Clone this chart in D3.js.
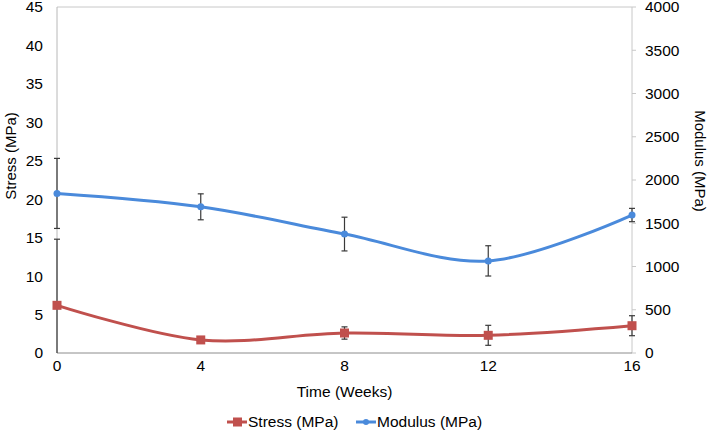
<!DOCTYPE html>
<html><head><meta charset="utf-8">
<script src="https://cdn.jsdelivr.net/npm/d3@7"></script>
<style>
body{margin:0;background:#fff;}
text{font-family:"Liberation Sans",Arial,Helvetica,sans-serif;fill:#000;}
</style></head>
<body>
<svg id="c" width="708" height="433"></svg>
<script>
const weeks = [0, 4, 8, 12, 16];
const stress = [6.2, 1.7, 2.6, 2.3, 3.55];
const stressErr = [8.6, 0.3, 0.8, 1.3, 1.3];
const modulus = [1845, 1690, 1375, 1065, 1595];
const modulusErr = [405, 150, 195, 175, 77];
const xTicks = [0, 4, 8, 12, 16];
const yLeftTicks = [0, 5, 10, 15, 20, 25, 30, 35, 40, 45];
const yRightTicks = [0, 500, 1000, 1500, 2000, 2500, 3000, 3500, 4000];
const seriesNames = ["Stress (MPa)", "Modulus (MPa)"];

const svg = d3.select("#c");
const L = 57, R = 632, T = 7, B = 353;
const x = d3.scaleLinear().domain([0, 16]).range([L, R]);
const yL = d3.scaleLinear().domain([0, 45]).range([B, T]);
const yR = d3.scaleLinear().domain([0, 4000]).range([B, T]);
const red = "#c0504d", blue = "#4a8adb", errC = "#3a3a3a";
const fs = "15.5px";

svg.append("defs").append("clipPath").attr("id", "clip")
  .append("rect").attr("x", L - 10).attr("y", T).attr("width", R - L + 20).attr("height", B - T);

// frame
svg.append("line").attr("x1", L).attr("x2", R).attr("y1", T).attr("y2", T).attr("stroke", "#c8c8c8");
svg.append("line").attr("x1", R).attr("x2", R).attr("y1", T).attr("y2", B).attr("stroke", "#c8c8c8");
svg.append("line").attr("x1", L).attr("x2", L).attr("y1", T).attr("y2", B).attr("stroke", "#b8b8b8");

// right ticks
svg.append("g").selectAll("line").data(yRightTicks).join("line")
  .attr("x1", R).attr("x2", R + 4).attr("y1", d => yR(d)).attr("y2", d => yR(d)).attr("stroke", "#c8c8c8");

// bottom axis
svg.append("line").attr("x1", L).attr("x2", R).attr("y1", B).attr("y2", B).attr("stroke", "#8c8c8c");

// tick labels
svg.append("g").selectAll("text").data(yLeftTicks).join("text")
  .attr("x", 43).attr("y", d => yL(d)).attr("dy", "0.35em").attr("text-anchor", "end")
  .style("font-size", fs).text(d => d);
svg.append("g").selectAll("text").data(yRightTicks).join("text")
  .attr("x", 645).attr("y", d => yR(d)).attr("dy", "0.35em").attr("text-anchor", "start")
  .style("font-size", fs).text(d => d);
svg.append("g").selectAll("text").data(xTicks).join("text")
  .attr("x", d => x(d)).attr("y", 371).attr("text-anchor", "middle")
  .style("font-size", fs).text(d => d);

// titles
svg.append("text").attr("x", (L + R) / 2).attr("y", 397).attr("text-anchor", "middle").style("font-size", fs).text("Time (Weeks)");
svg.append("text").attr("transform", "translate(16,156) rotate(-90)").attr("text-anchor", "middle").style("font-size", "15px").text("Stress (MPa)");
svg.append("text").attr("transform", "translate(695,161) rotate(90)").attr("text-anchor", "middle").style("font-size", "15px").text("Modulus (MPa)");

const g = svg.append("g").attr("clip-path", "url(#clip)");

function errBars(vals, errs, ys) {
  const eg = g.append("g");
  weeks.forEach((w, i) => {
    const cx = x(w), y1 = ys(vals[i] + errs[i]), y2 = ys(vals[i] - errs[i]);
    eg.append("line").attr("x1", cx).attr("x2", cx).attr("y1", y1).attr("y2", y2).attr("stroke", errC).attr("stroke-width", 1.2);
    [y1, y2].forEach(yy => eg.append("line").attr("x1", cx - 3).attr("x2", cx + 3).attr("y1", yy).attr("y2", yy).attr("stroke", errC).attr("stroke-width", 1.2));
  });
}

const curve = d3.curveCatmullRom.alpha(0.5);
// Stress
errBars(stress, stressErr, yL);
g.append("path").datum(weeks.map((w, i) => [x(w), yL(stress[i])]))
  .attr("d", d3.line().curve(curve)).attr("fill", "none").attr("stroke", red).attr("stroke-width", 3);
g.append("g").selectAll("rect").data(weeks).join("rect")
  .attr("x", d => x(d) - 4.5).attr("y", (d, i) => yL(stress[i]) - 4.5).attr("width", 9).attr("height", 9).attr("fill", red);

// Modulus
errBars(modulus, modulusErr, yR);
g.append("path").datum(weeks.map((w, i) => [x(w), yR(modulus[i])]))
  .attr("d", d3.line().curve(curve)).attr("fill", "none").attr("stroke", blue).attr("stroke-width", 3);
g.append("g").selectAll("circle").data(weeks).join("circle")
  .attr("cx", d => x(d)).attr("cy", (d, i) => yR(modulus[i])).attr("r", 3.5).attr("fill", blue);

// legend
const lg = svg.append("g");
lg.append("line").attr("x1", 227).attr("x2", 247).attr("y1", 422).attr("y2", 422).attr("stroke", red).attr("stroke-width", 3);
lg.append("rect").attr("x", 233).attr("y", 417.5).attr("width", 9).attr("height", 9).attr("fill", red);
lg.append("text").attr("x", 248).attr("y", 422).attr("dy", "0.35em").style("font-size", fs).text(seriesNames[0]);
lg.append("line").attr("x1", 356).attr("x2", 376).attr("y1", 422).attr("y2", 422).attr("stroke", blue).attr("stroke-width", 3);
lg.append("circle").attr("cx", 366).attr("cy", 422).attr("r", 3).attr("fill", blue);
lg.append("text").attr("x", 377).attr("y", 422).attr("dy", "0.35em").style("font-size", fs).text(seriesNames[1]);
</script>
</body></html>
